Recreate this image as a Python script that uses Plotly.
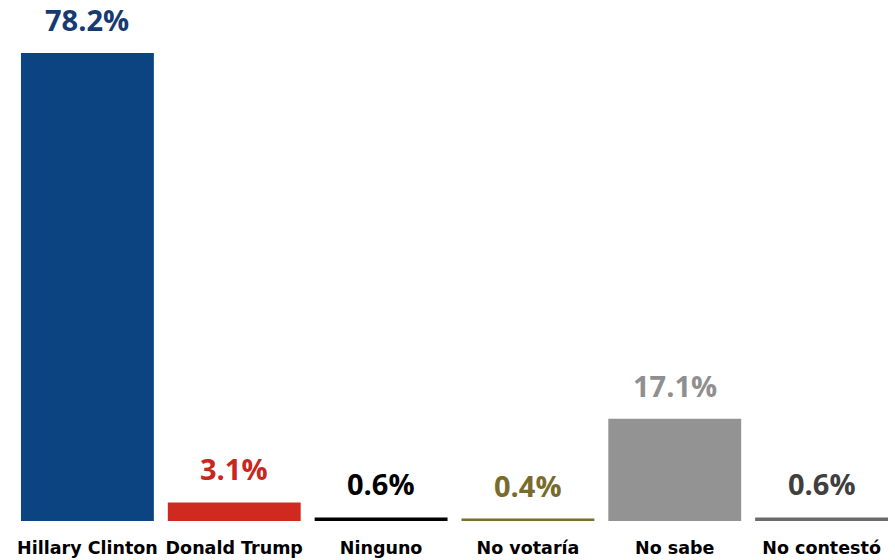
import plotly.graph_objects as go

categories = ["Hillary Clinton", "Donald Trump", "Ninguno", "No votaría", "No sabe", "No contestó"]
values = [78.2, 3.1, 0.6, 0.4, 17.1, 0.6]
labels = ["78.2%", "3.1%", "0.6%", "0.4%", "17.1%", "0.6%"]
bar_colors = ["#0b4480", "#d02a20", "#000000", "#7c6f2e", "#939393", "#6b6b6b"]
text_colors = ["#163a72", "#c9261d", "#000000", "#786b2c", "#8f8f8f", "#3f3f3f"]

LABEL_FONT = "Open Sans"
TICK_FONT = "DejaVu Sans"

fig = go.Figure(go.Bar(x=categories, y=values, marker=dict(color=bar_colors, line=dict(width=0)),
                       hoverinfo="skip"))

for c, v, t, col in zip(categories, values, labels, text_colors):
    fig.add_annotation(x=c, y=v, text=f"<b>{t}</b>", showarrow=False, yanchor="bottom",
                       yshift=13, borderpad=0, font=dict(family=LABEL_FONT, size=29, color=col))

fig.update_layout(
    width=895, height=560,
    margin=dict(l=14, r=0, t=0, b=39, autoexpand=False),
    plot_bgcolor="white", paper_bgcolor="white",
    bargap=0.095,
    showlegend=False,
    xaxis=dict(showgrid=False, showline=False, zeroline=False, ticks="",
               tickfont=dict(family=TICK_FONT, size=17.5, color="#000000"),
               ticklabelstandoff=14, automargin=False),
    yaxis=dict(visible=False, range=[0, 87.06]),
)
fig.update_xaxes(tickvals=categories, ticktext=[f"<b>{c}</b>" for c in categories])

fig.write_html("out.html", config={"displayModeBar": False},
               post_script="document.body.style.margin='0';document.body.style.overflow='hidden';")
